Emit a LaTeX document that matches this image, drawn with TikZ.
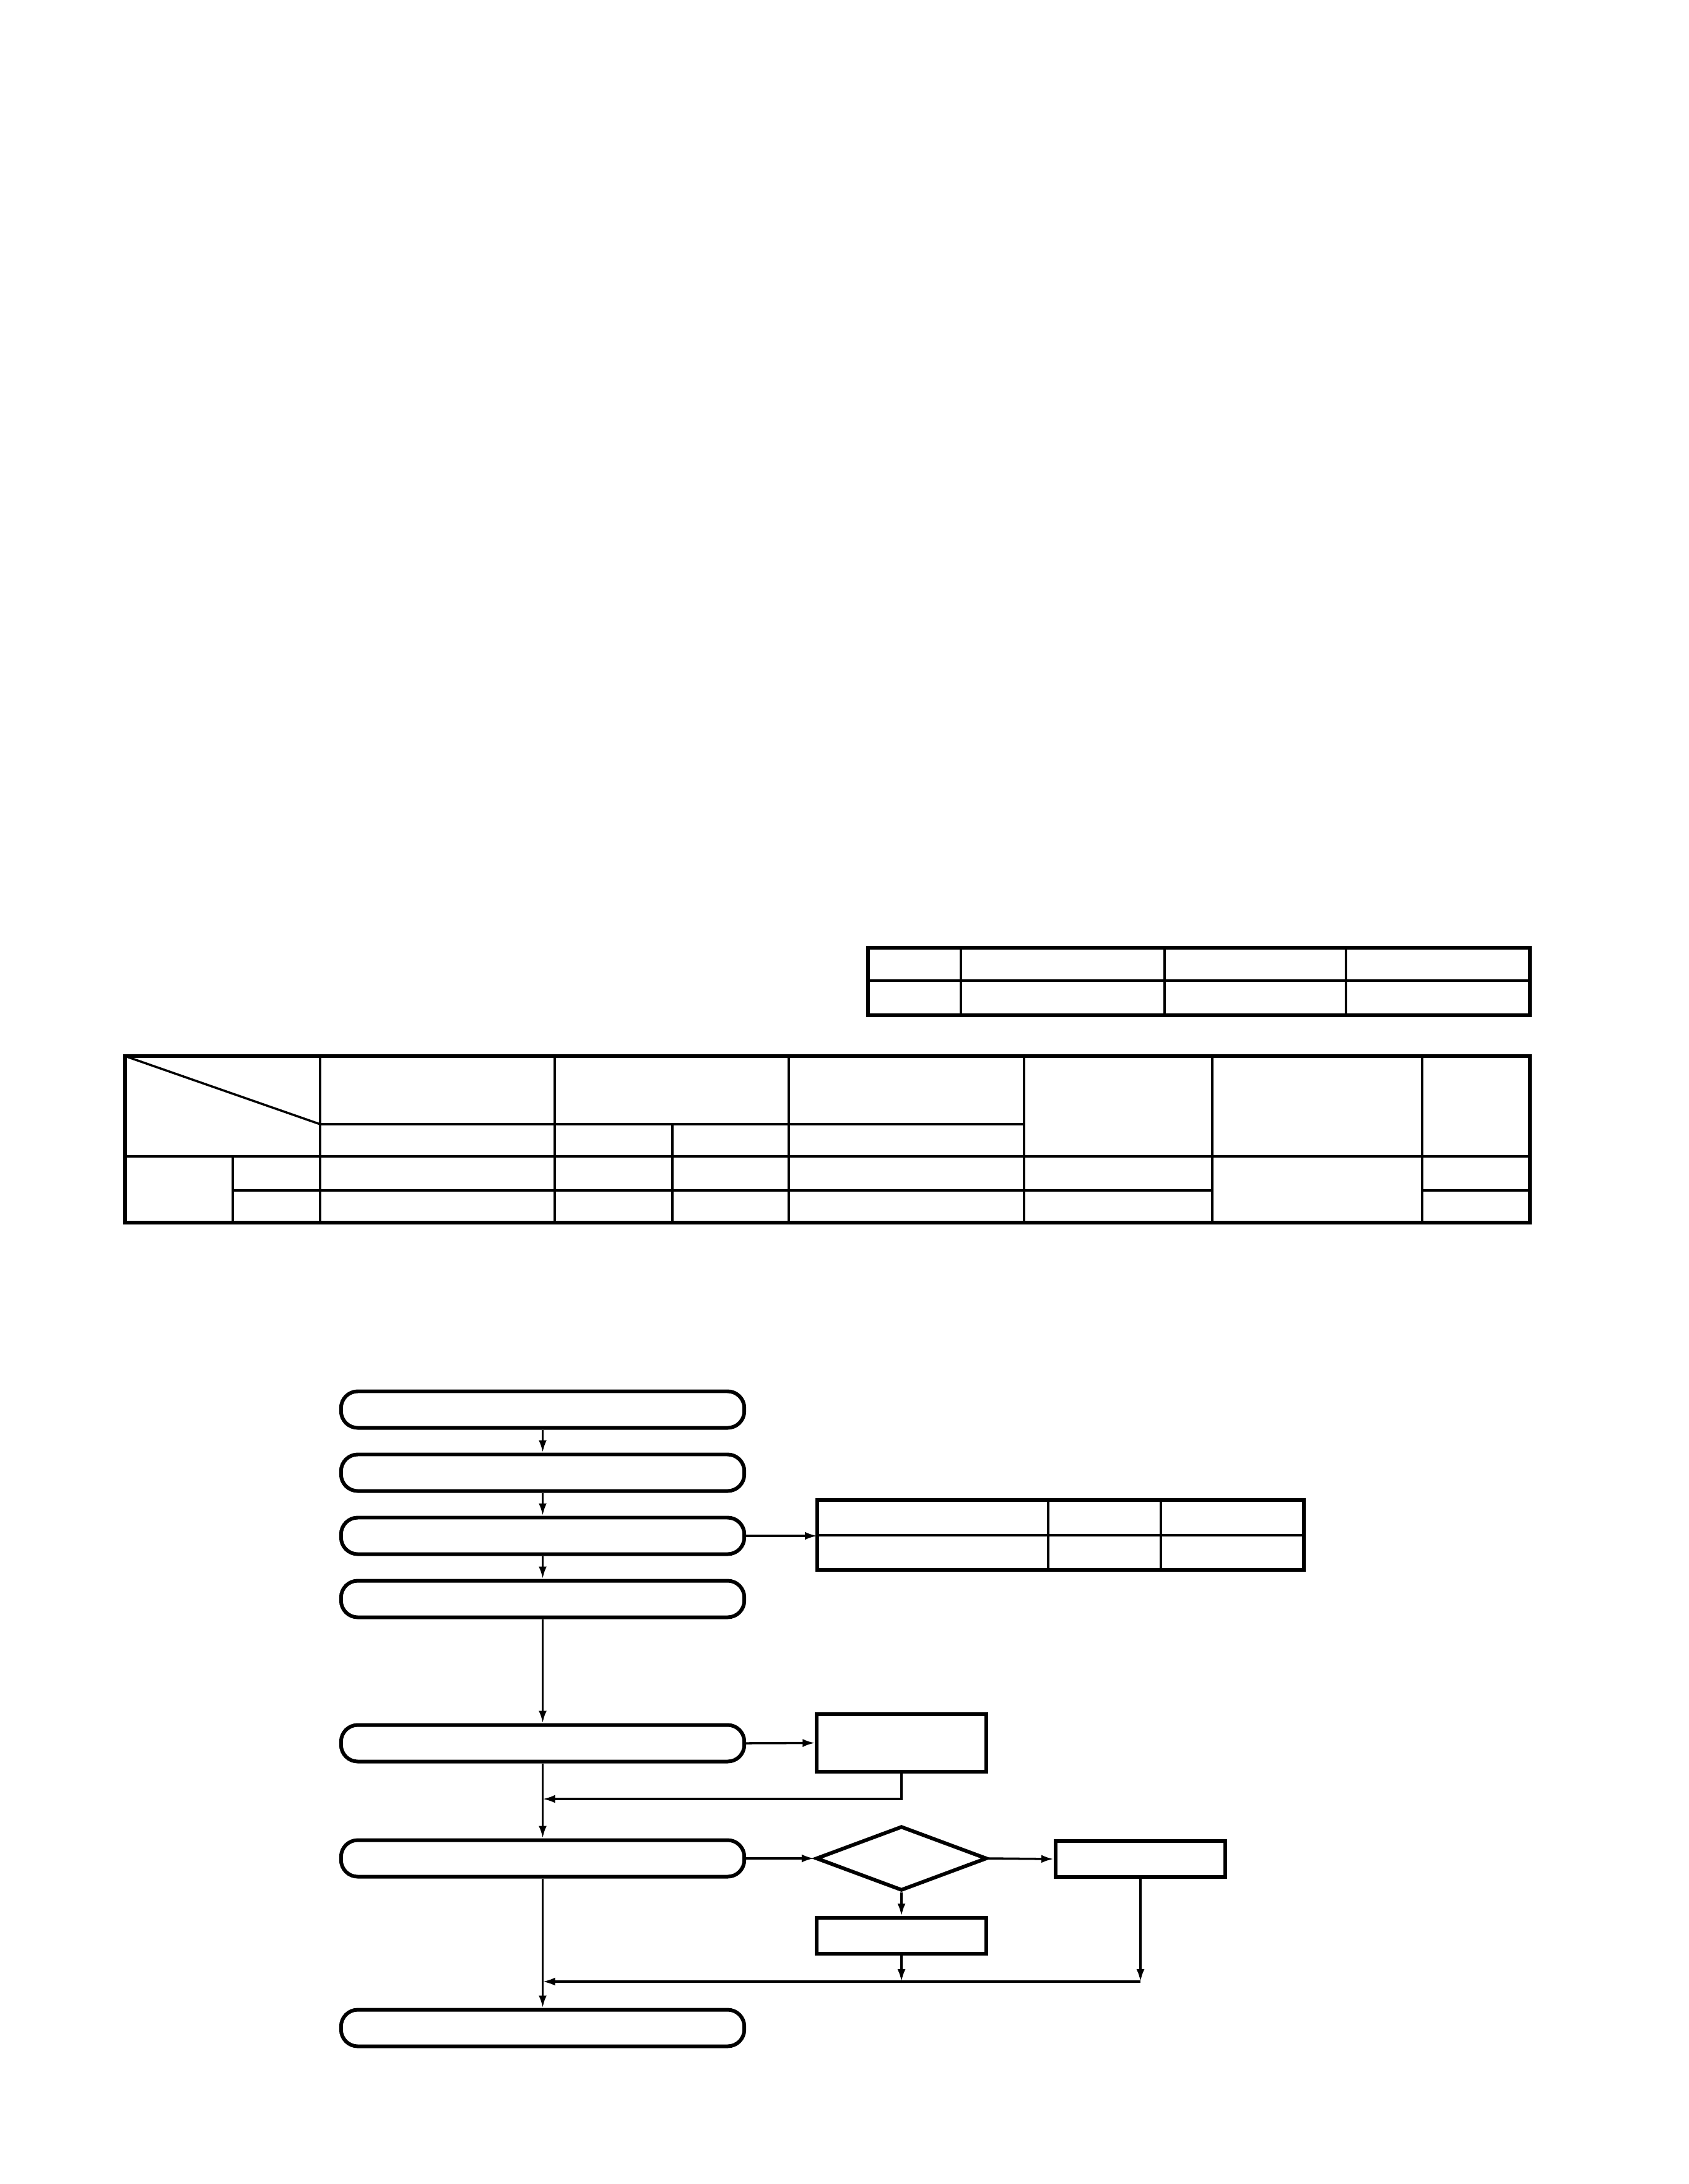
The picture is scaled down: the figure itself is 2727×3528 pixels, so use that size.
\documentclass[tikz,border=0pt]{standalone}
\usetikzlibrary{shapes.geometric,arrows.meta,positioning}
\tikzset{
  pill/.style={draw,line width=1.7pt,rounded corners=0.27cm,minimum width=6.51cm,minimum height=0.59cm,inner sep=0pt},
  plainbox/.style={draw,line width=1.7pt,minimum width=2.73cm,minimum height=0.58cm,inner sep=0pt},
  decide/.style={draw,diamond,line width=1.7pt,minimum width=2.76cm,minimum height=1.04cm,inner sep=0pt},
  flow/.style={line width=1pt,-{Latex[length=0.2cm,width=0.13cm]}},
  gridline/.style={line width=1pt},
  frame/.style={line width=1.7pt}
}
\begin{document}
\begin{tikzpicture}[x=0.01cm,y=-0.01cm]
  \useasboundingbox (0,0) rectangle (2727,3528);
  % small table
  \draw[frame] (1402,1531) rectangle (2471,1640);
  \draw[gridline] (1402,1584) -- (2471,1584);
  \foreach \x in {1552,1881,2174}{
    \draw[gridline] (\x,1531) -- (\x,1640);
  }
  % large table
  \draw[frame] (202,1706) rectangle (2471,1975);
  \draw[gridline] (202,1706) -- (517,1816);
  \foreach \x in {517,896,1274,1654,1958,2297}{
    \draw[gridline] (\x,1706) -- (\x,1975);
  }
  \draw[gridline] (376,1868) -- (376,1975);
  \draw[gridline] (1086,1816) -- (1086,1975);
  \draw[gridline] (517,1816) -- (1654,1816);
  \draw[gridline] (202,1868) -- (2471,1868);
  \draw[gridline] (376,1923) -- (1958,1923);
  \draw[gridline] (2297,1923) -- (2471,1923);
  % flow chart
  \foreach \n/\y in {1/2277,2/2379,3/2481,4/2583,5/2816,6/3002,7/3276}{
    \node[pill] (b\n) at (876.5,\y) {};
  }
  \node[plainbox,minimum height=0.93cm] (ra) at (1456,2815.5) {};
  \node[decide] (dm) at (1456,3002) {};
  \node[plainbox,minimum width=2.74cm] (rb) at (1842,3003) {};
  \node[plainbox] (rc) at (1456,3127) {};
  % result table
  \draw[frame] (1320,2423) rectangle (2106,2536);
  \draw[gridline] (1320,2480) -- (2106,2480);
  \foreach \x in {1693,1875}{
    \draw[gridline] (\x,2423) -- (\x,2536);
  }
  \coordinate (tw) at (1320,2481);
  \coordinate (j1) at (876.5,2906);
  \coordinate (j2) at (876.5,3201);
  \foreach \a/\b in {1/2,2/3,3/4,4/5,5/6,6/7}{
    \draw[flow] (b\a.south) -- (b\b.north);
  }
  \draw[flow] (b3.east) -- (tw);
  \draw[flow] (b5.east) -- (ra.west);
  \draw[flow] (ra.south) |- (j1);
  \draw[flow] (b6.east) -- (dm.west);
  \draw[flow] (dm.east) -- (rb.west);
  \draw[flow] (dm.south) -- (rc.north);
  \draw[flow] (rc.south) -- (rc.south |- j2);
  \draw[flow] (rb.south) -- (rb.south |- j2);
  \draw[flow] (rb.south |- j2) -- (j2);
\end{tikzpicture}
\end{document}
